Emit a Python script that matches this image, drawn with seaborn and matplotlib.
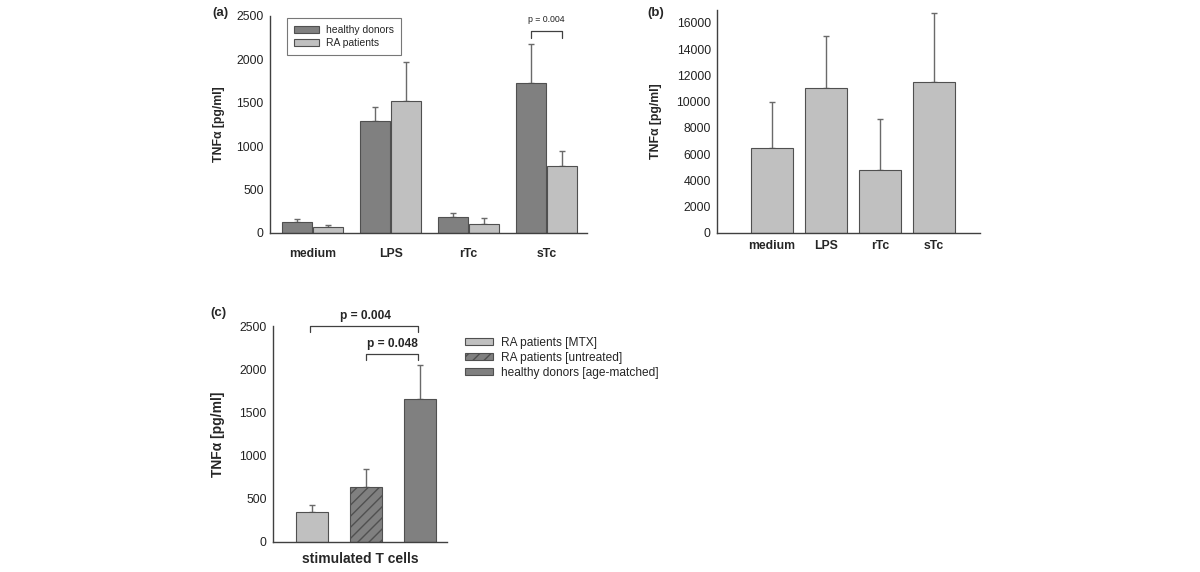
import numpy as np
import pandas as pd
import seaborn as sns
import matplotlib.pyplot as plt
from matplotlib.patches import Patch

# panel (a): TNFa by stimulus, healthy donors vs RA patients
stimuli = ['medium', 'LPS', 'rTc', 'sTc']
healthy_mean = [127, 1285, 188, 1727]
healthy_err = [38, 161, 47, 450]
ra_mean = [70, 1523, 100, 777]
ra_err = [20, 446, 77, 173]
groups_a = ['healthy donors', 'RA patients']

# panel (b): single group
b_mean = [6450, 11050, 4800, 11500]
b_err = [3560, 3990, 3850, 5290]

# panel (c): stimulated T cells
groups_c = ['RA patients [MTX]', 'RA patients [untreated]', 'healthy donors [age-matched]']
tcell_mean = [346, 635, 1650]
tcell_err = [81, 211, 400]

DARK = '#808080'
LIGHT = '#c0c0c0'
EDGE = '#505050'
ERR = '#6a6a6a'
AXC = '#404040'
YLAB = 'TNFα [pg/ml]'

sns.set_style('white')
plt.rcParams['font.family'] = ['Liberation Sans', 'DejaVu Sans']
plt.rcParams['hatch.linewidth'] = 1.0

W, H = 1200, 572
fig = plt.figure(figsize=(12, 5.72), dpi=100)


def add_ax(left, top, right, bottom):
    return fig.add_axes([left / W, 1 - bottom / H, (right - left) / W, (bottom - top) / H])


def style(ax, fs):
    sns.despine(ax=ax)
    for s in ['left', 'bottom']:
        ax.spines[s].set_color(AXC)
        ax.spines[s].set_linewidth(1.0)
    ax.tick_params(axis='y', length=3, width=0.8, color=AXC, pad=1.5, labelsize=fs, labelcolor='#222222')


def add_errs(ax, bars, errs):
    for bar, e in zip(bars, errs):
        x = bar.get_x() + bar.get_width() / 2
        ax.errorbar(x, bar.get_height(), yerr=[[0], [e]], fmt='none', ecolor=ERR,
                    elinewidth=1.0, capsize=2.5, capthick=1.0, zorder=1)


# ---------- (a)
ax = add_ax(270, 16, 587, 233)
df_a = pd.DataFrame({
    'stimulus': stimuli * 2,
    'value': healthy_mean + ra_mean,
    'group': [groups_a[0]] * 4 + [groups_a[1]] * 4,
})
sns.barplot(data=df_a, x='stimulus', y='value', hue='group', palette=[DARK, LIGHT],
            width=0.8, gap=0.04, edgecolor=EDGE, linewidth=0.8, errorbar=None, ax=ax, zorder=2)
for cont, errs in zip(ax.containers, [healthy_err, ra_err]):
    add_errs(ax, cont, errs)
ax.set_ylim(0, 2500)
ax.set_xlim(-0.55, 3.52)
ax.set_yticks(range(0, 2501, 500))
style(ax, 8.8)
ax.tick_params(axis='x', length=0, pad=11)
for t in ax.get_xticklabels():
    t.set_fontweight('bold')
    t.set_fontsize(8.8)
ax.set_xlabel('')
ax.set_ylabel(YLAB, fontsize=8.8, fontweight='bold')
ax.yaxis.set_label_coords(225 / W, 1 - 124 / H, transform=fig.transFigure)
h, l = ax.get_legend_handles_labels()
ax.legend(h, l, loc='upper left', bbox_to_anchor=(287 / W, 1 - 18 / H), bbox_transform=fig.transFigure,
          fontsize=7.5, frameon=True, fancybox=False, edgecolor='#777777', framealpha=1,
          handlelength=2.4, handleheight=0.6, labelspacing=0.25, borderpad=0.7, handletextpad=0.6,
          borderaxespad=0)
ax.get_legend().get_frame().set_linewidth(0.8)
# significance bracket
x1 = ax.containers[0][3].get_x() + ax.containers[0][3].get_width() / 2
x2 = ax.containers[1][3].get_x() + ax.containers[1][3].get_width() / 2
ax.plot([x1, x1, x2, x2], [2250, 2327, 2327, 2250], color=AXC, lw=0.9, clip_on=False)
ax.text((x1 + x2) / 2, 2410, 'p = 0.004', ha='center', va='bottom', fontsize=6.3, color='#222222')
fig.text(212 / W, 1 - 13 / H, '(a)', fontsize=9.5, fontweight='bold', va='center', ha='left')

# ---------- (b)
ax = add_ax(717, 10, 980, 233)
sns.barplot(x=stimuli, y=b_mean, color=LIGHT, width=0.78, edgecolor=EDGE, linewidth=0.8,
            errorbar=None, ax=ax, zorder=2)
add_errs(ax, ax.patches, b_err)
ax.set_ylim(0, 16990)
ax.set_xlim(-1.02, 3.85)
ax.set_yticks(range(0, 16001, 2000))
style(ax, 8.8)
ax.tick_params(axis='x', length=0, pad=5)
for t in ax.get_xticklabels():
    t.set_fontweight('bold')
    t.set_fontsize(8.8)
ax.set_ylabel(YLAB, fontsize=8.8, fontweight='bold')
ax.yaxis.set_label_coords(662 / W, 1 - 121 / H, transform=fig.transFigure)
fig.text(647 / W, 1 - 13 / H, '(b)', fontsize=9.5, fontweight='bold', va='center', ha='left')

# ---------- (c)
ax = add_ax(273, 326, 447, 542)
sns.barplot(x=groups_c, y=tcell_mean, hue=groups_c, palette=[LIGHT, DARK, DARK], width=0.6,
            edgecolor=EDGE, linewidth=0.8, errorbar=None, legend=False, ax=ax, zorder=2)
bars_c = sorted(ax.patches, key=lambda p: p.get_x())
bars_c[1].set_hatch('///')
add_errs(ax, bars_c, tcell_err)
ax.set_ylim(0, 2500)
ax.set_xlim(-0.73, 2.51)
ax.set_yticks(range(0, 2501, 500))
style(ax, 8.8)
ax.set_xticks([])
ax.set_xlabel('stimulated T cells', fontsize=10, fontweight='bold', labelpad=7)
ax.set_ylabel(YLAB, fontsize=10, fontweight='bold')
ax.yaxis.set_label_coords(225 / W, 1 - 434 / H, transform=fig.transFigure)
cx = [b.get_x() + b.get_width() / 2 for b in bars_c]
ax.plot([cx[0] - 0.04, cx[0] - 0.04, cx[2] - 0.03, cx[2] - 0.03], [2430, 2500, 2500, 2430],
        color=AXC, lw=0.9, clip_on=False)
ax.text((cx[0] + cx[2]) / 2, 2545, 'p = 0.004', ha='center', va='bottom', fontsize=8.6, fontweight='bold')
ax.plot([cx[1], cx[1], cx[2] - 0.03, cx[2] - 0.03], [2112, 2181, 2181, 2112],
        color=AXC, lw=0.9, clip_on=False)
ax.text((cx[1] + cx[2]) / 2, 2225, 'p = 0.048', ha='center', va='bottom', fontsize=8.6, fontweight='bold')
handles = [Patch(facecolor=LIGHT, edgecolor=EDGE, lw=0.8),
           Patch(facecolor=DARK, edgecolor=EDGE, lw=0.8, hatch='///'),
           Patch(facecolor=DARK, edgecolor=EDGE, lw=0.8)]
ax.legend(handles, groups_c, loc='upper left', bbox_to_anchor=(460 / W, 1 - 332 / H),
          bbox_transform=fig.transFigure, fontsize=8.6, frameon=False, borderaxespad=0,
          handlelength=2.4, handleheight=0.6, labelspacing=0.25, handletextpad=0.6)
fig.text(210 / W, 1 - 313 / H, '(c)', fontsize=9.5, fontweight='bold', va='center', ha='left')

fig.savefig('out.png', dpi=100, facecolor='white')
